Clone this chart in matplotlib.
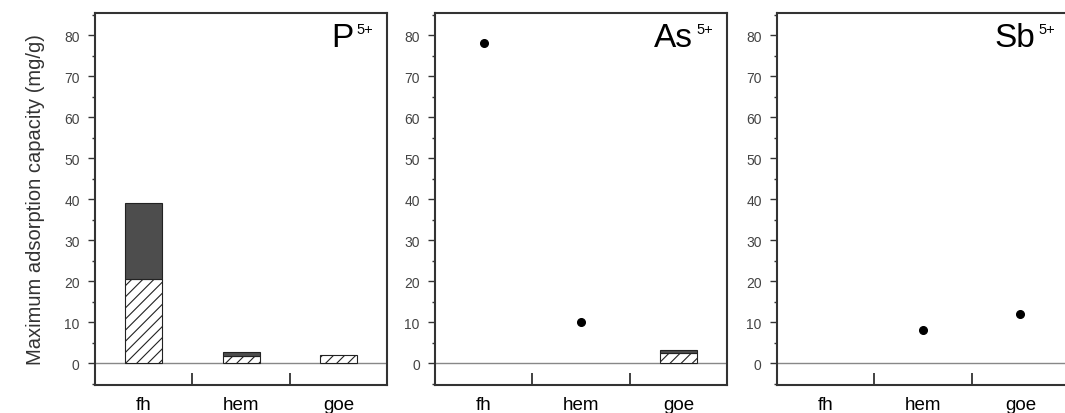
import numpy as np
import matplotlib
matplotlib.use("Agg")
import matplotlib.pyplot as plt
from matplotlib.ticker import MultipleLocator, FixedLocator

plt.rcParams['font.family'] = ['Liberation Sans', 'DejaVu Sans']
plt.rcParams['hatch.linewidth'] = 0.8

# dados
minerais = ['fh', 'hem', 'goe']
ions = ['P', 'As', 'Sb']
carga = '5+'

# barras: parte hachurada (base) e total (topo escuro)
p_base = [20.5, 1.7, 2.0]
p_total = [39.0, 2.8, 2.0]
as_base = [0.0, 0.0, 2.6]
as_total = [0.0, 0.0, 3.3]
sb_base = [0.0, 0.0, 0.0]
sb_total = [0.0, 0.0, 0.0]

# pontos (capacidade maxima medida)
as_pontos = [78.0, 10.0, np.nan]
sb_pontos = [np.nan, 8.0, 12.0]
p_pontos = [np.nan, np.nan, np.nan]

bases = [p_base, as_base, sb_base]
totais = [p_total, as_total, sb_total]
pontos = [p_pontos, as_pontos, sb_pontos]

fig = plt.figure(figsize=(10.65, 4.14), dpi=100)
lefts = [0.0892, 0.4085, 0.7296]
x = np.arange(len(minerais))
cinza = '#333333'

for i in range(3):
    ax = fig.add_axes([lefts[i], 0.0676, 0.2742, 0.8986])
    base = np.array(bases[i])
    topo = np.array(totais[i]) - base
    tem_base = base > 0
    tem_topo = topo > 0
    ax.bar(x[tem_base], base[tem_base], width=0.38, color='white',
           edgecolor='#222222', hatch='///', linewidth=0.8)
    ax.bar(x[tem_topo], topo[tem_topo], bottom=base[tem_topo], width=0.38,
           color='#4d4d4d', edgecolor='#222222', linewidth=0.8)
    ax.plot(x, pontos[i], 'o', color='black', markersize=5.5, linestyle='none')
    ax.axhline(0, color='#888888', linewidth=1.0, zorder=0)

    ax.set_xlim(-0.5, 2.5)
    ax.set_ylim(-5.3, 85.4)
    ax.set_xticks(x)
    ax.set_xticklabels(minerais, fontsize=13.5)
    ax.xaxis.set_minor_locator(FixedLocator([0.5, 1.5]))
    ax.tick_params(axis='x', which='major', length=0, pad=8)
    ax.tick_params(axis='x', which='minor', direction='in', length=9,
                   width=1.3, color=cinza)
    ax.set_yticks(np.arange(0, 81, 10))
    ax.yaxis.set_minor_locator(MultipleLocator(5))
    ax.tick_params(axis='y', which='major', length=5, width=1.0,
                   labelsize=10, labelcolor='#444444', color=cinza, pad=6)
    ax.tick_params(axis='y', which='minor', length=2.5, width=1.0, color=cinza)
    for s in ax.spines.values():
        s.set_color(cinza)
        s.set_linewidth(1.5)
    # simbolo do ion com a carga em sobrescrito
    ax.annotate(ions[i], xy=(1, 1), xycoords='axes fraction',
                xytext=(-34, -9), textcoords='offset pixels',
                ha='right', va='top', fontsize=24)
    ax.annotate(carga, xy=(1, 1), xycoords='axes fraction',
                xytext=(-14, -9), textcoords='offset pixels',
                ha='right', va='top', fontsize=10.5)
    if i == 0:
        ax.set_ylabel('Maximum adsorption capacity (mg/g)', fontsize=14.5,
                      color='#333333', labelpad=14)

fig.savefig('out.png', dpi=100)
